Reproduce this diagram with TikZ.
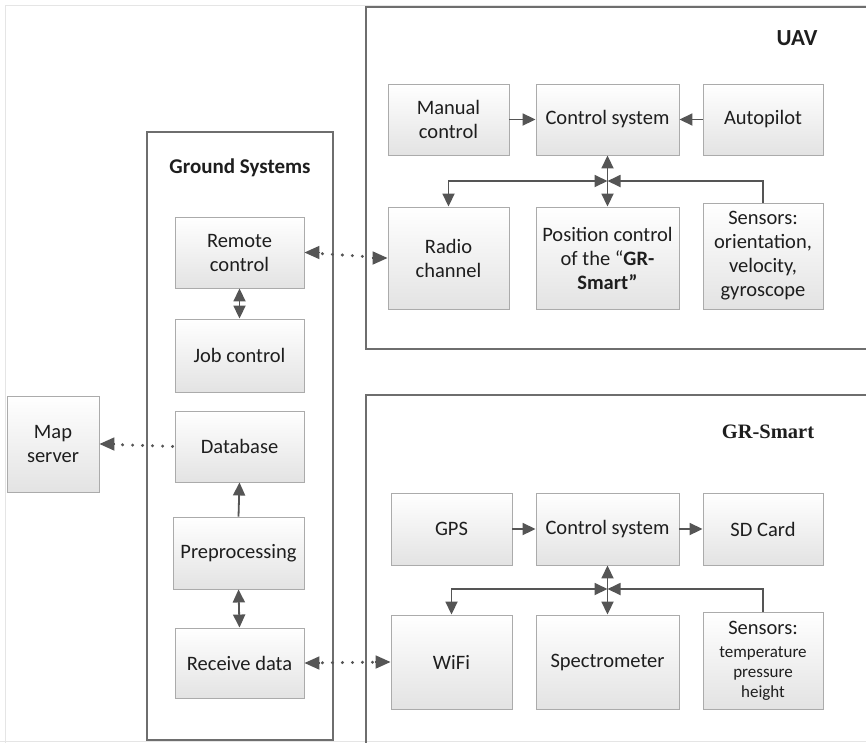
\documentclass[tikz,border=0pt]{standalone}
\usepackage{fontspec}
\setmainfont{Carlito}
\newfontfamily\serifb{Liberation Serif}
\usetikzlibrary{arrows.meta,shadows}
\definecolor{linec}{HTML}{555555}
\definecolor{framec}{HTML}{6E6E6E}
\definecolor{boxline}{HTML}{ABABAB}
\definecolor{txt}{HTML}{1E1E1E}
\tikzset{
  box/.style={draw=boxline, line width=0.9pt, top color=white, bottom color=black!11,
    drop shadow={shadow xshift=1.3pt, shadow yshift=-1.3pt, opacity=0.3, fill=black!40},
    align=center, text=txt, font=\fontsize{20.5}{24}\selectfont, inner sep=2pt},
  frame/.style={draw=framec, line width=1.4pt},
  tipa/.tip={Triangle[length=13pt,width=12pt]},
  tipb/.tip={Triangle[length=15pt,width=13pt]},
  conn/.style={draw=linec, line width=1.8pt, -tipa},
  dconn/.style={draw=linec, line width=1.8pt, tipa-tipa},
  dots/.style={draw=linec, line width=3.3pt, line cap=round, dash pattern=on 0pt off 10pt},
  dtip/.style={draw=linec, line width=1.8pt, -tipb},
  title/.style={font=\bfseries\fontsize{21}{24}\selectfont, text=txt},
}
\begin{document}
\begin{tikzpicture}[x=1pt,y=-1pt]
\useasboundingbox (0,0) rectangle (866,742);
\fill[white] (0,0) rectangle (866,742);
\draw[black!10, line width=0.8pt] (5,760) -- (5,5) -- (880,5);
\draw[black!10, line width=0.8pt] (0,741) -- (880,741);

% frames
\draw[frame] (880,7) -- (366,7) -- (366,349) -- (880,349);
\draw[frame] (880,395) -- (366,395) -- (366,760);
\draw[frame] (147,132) rectangle (333,740);

\node[title, font=\bfseries\fontsize{23}{26}\selectfont] (uavt) at (797,38) {UAV};
\node[font=\serifb\bfseries\fontsize{20.5}{24}\selectfont, text=txt] (grt) at (768,432) {GR-Smart};
\node[title] (gst) at (240,168) {Ground Systems};

% UAV boxes
\node[box, minimum width=121, minimum height=71] (man) at (448.5,119.5) {Manual\\control};
\node[box, minimum width=143, minimum height=71] (cs1) at (607.5,119.5) {Control system};
\node[box, minimum width=120, minimum height=71] (auto) at (763,119.5) {Autopilot};
\node[box, minimum width=121, minimum height=102] (radio) at (448.5,258) {Radio\\channel};
\node[box, minimum width=143, minimum height=102] (pos) at (607.5,258) {Position control\\of the “\textbf{GR-}\\\textbf{Smart”}};
\node[box, minimum width=120, minimum height=106] (sens1) at (763,256) {Sensors:\\orientation,\\velocity,\\gyroscope};

% GR-Smart boxes
\node[box, minimum width=121, minimum height=72] (gps) at (451.5,529) {GPS};
\node[box, minimum width=143, minimum height=72] (cs2) at (607.5,529) {Control system};
\node[box, minimum width=120, minimum height=72] (sd) at (763,529) {SD Card};
\node[box, minimum width=121, minimum height=94] (wifi) at (451.5,662) {WiFi};
\node[box, minimum width=143, minimum height=94] (spec) at (607.5,662) {Spectrometer};
\node[box, minimum width=120, minimum height=97] (sens2) at (763,660.5) {Sensors:\\[-1pt]{\fontsize{17}{20}\selectfont temperature}\\[-4pt]{\fontsize{17}{20}\selectfont pressure}\\[-4pt]{\fontsize{17}{20}\selectfont height}};

% Ground boxes
\node[box, minimum width=129, minimum height=71] (rc) at (239.5,252.5) {Remote\\control};
\node[box, minimum width=129, minimum height=73] (jc) at (239.5,355.5) {Job control};
\node[box, minimum width=129, minimum height=71] (db) at (239.5,446.5) {Database};
\node[box, minimum width=131, minimum height=72] (pre) at (238.5,553) {Preprocessing};
\node[box, minimum width=129, minimum height=70] (rd) at (239.5,663) {Receive data};
\node[box, minimum width=92, minimum height=96] (map) at (53,444) {Map\\server};

% junctions
\coordinate (j1) at (607.5,181);
\coordinate (j2) at (607.5,589);

% UAV connectors
\draw[conn] (man) -- (cs1);
\draw[conn] (auto) -- (cs1);
\draw[dconn] (cs1.south) -- (pos.north);
\draw[dconn] (radio.north) |- (j1);
\draw[conn] (sens1.north) |- (j1);

% GR-Smart connectors
\draw[conn] (gps) -- (cs2);
\draw[conn] (cs2) -- (sd);
\draw[dconn] (cs2.south) -- (spec.north);
\draw[dconn] (wifi.north) |- (j2);
\draw[conn] (sens2.north) |- (j2);

% Ground connectors
\draw[dconn] (rc.south) -- (jc.north);
\draw[conn] (pre.north) -- (db.south);
\draw[dconn] (pre.south) -- (rd.north);

% dotted links
\draw[dots, shorten <=18pt, shorten >=18pt] (rc.east) -- (radio.west);
\draw[dots, shorten <=18pt, shorten >=18pt] (rd.east) -- (wifi.west);
\draw[dots, shorten <=2pt, shorten >=18pt] (db.west) -- (map.east);
\draw[dtip] ([xshift=16pt]rc.east) -- (rc.east);
\draw[dtip] ([xshift=-16pt]radio.west) -- (radio.west);
\draw[dtip] ([xshift=16pt]rd.east) -- (rd.east);
\draw[dtip] ([xshift=-16pt]wifi.west) -- (wifi.west);
\draw[dtip] ([xshift=16pt]map.east) -- (map.east);
\end{tikzpicture}
\end{document}
